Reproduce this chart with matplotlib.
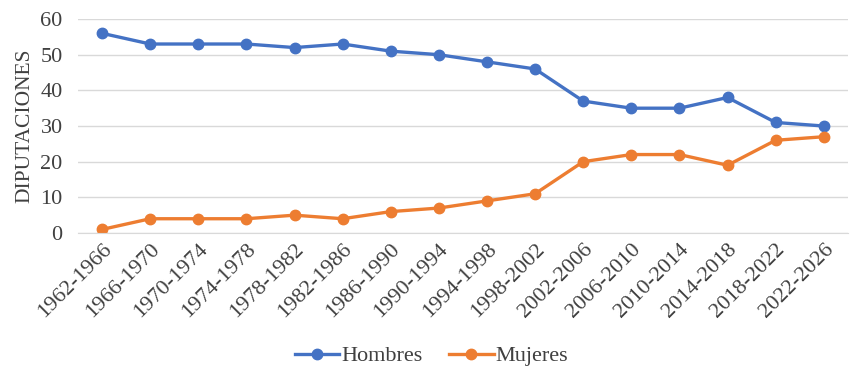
import matplotlib
matplotlib.use("Agg")
import matplotlib.pyplot as plt

periods = ["1962-1966", "1966-1970", "1970-1974", "1974-1978", "1978-1982",
           "1982-1986", "1986-1990", "1990-1994", "1994-1998", "1998-2002",
           "2002-2006", "2006-2010", "2010-2014", "2014-2018", "2018-2022",
           "2022-2026"]
hombres = [56, 53, 53, 53, 52, 53, 51, 50, 48, 46, 37, 35, 35, 38, 31, 30]
mujeres = [1, 4, 4, 4, 5, 4, 6, 7, 9, 11, 20, 22, 22, 19, 26, 27]

plt.rcParams['font.family'] = ['Liberation Serif', 'DejaVu Serif']
txt = '#404040'

fig = plt.figure(figsize=(8.63, 3.78), dpi=100)
ax = fig.add_axes([0.0904, 0.3836, 0.892, 0.566])

x = range(len(periods))
ax.plot(x, hombres, color='#4472C4', lw=2.4, marker='o', ms=7.5, label='Hombres')
ax.plot(x, mujeres, color='#ED7D31', lw=2.4, marker='o', ms=7.5, label='Mujeres')

ax.set_xlim(-0.5, len(periods) - 0.5)
ax.set_ylim(0, 60)
ax.set_yticks(range(0, 61, 10))
ax.set_xticks(list(x))
ax.set_xticklabels(periods, rotation=45, ha='right', rotation_mode='anchor')
ax.tick_params(length=0, labelsize=16, labelcolor=txt)
ax.tick_params(axis='y', pad=11)
ax.tick_params(axis='x', pad=5)
ax.grid(axis='y', color='#d9d9d9', lw=1)
ax.set_axisbelow(True)
for s in ['top', 'right', 'left']:
    ax.spines[s].set_visible(False)
ax.spines['bottom'].set_color('#d9d9d9')
ax.set_ylabel('DIPUTACIONES', fontsize=15.5, color=txt, labelpad=4)

fig.legend(loc='center', bbox_to_anchor=(0.5, 0.058), ncol=2, frameon=False,
           fontsize=16, labelcolor=txt, handlelength=2.0, handletextpad=0.1,
           columnspacing=1.2)

fig.savefig('out.png', dpi=100)
